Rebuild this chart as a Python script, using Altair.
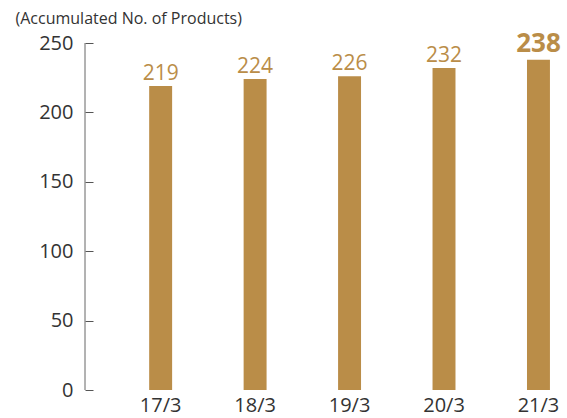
import altair as alt
import pandas as pd

categories = ["17/3", "18/3", "19/3", "20/3", "21/3"]
values = [219, 224, 226, 232, 238]
highlight = [False, False, False, False, True]

df = pd.DataFrame({"cat": categories, "val": values, "hl": highlight})

BAR = "#BA8D48"
FONT = "Open Sans"

x = alt.X("cat:N", sort=categories,
          scale=alt.Scale(paddingInner=0.757, paddingOuter=0.43, align=0.79),
          axis=alt.Axis(title=None, labelAngle=0, domain=False, ticks=False,
                        labelFontSize=20, labelFont=FONT, labelColor="#333333",
                        labelPadding=5, grid=False))
y = alt.Y("val:Q", scale=alt.Scale(domain=[0, 250], nice=False),
          axis=alt.Axis(title="(Accumulated No. of Products)",
                        titleAngle=0, titleAlign="left", titleBaseline="alphabetic",
                        titleX=-78, titleY=-20, titleFontSize=16, titleFont=FONT,
                        titleFontWeight="normal", titleColor="#333333",
                        values=[0, 50, 100, 150, 200, 250],
                        domain=False, ticks=True, tickSize=8, offset=-8,
                        tickColor="#555555", tickWidth=1, labelPadding=12,
                        labelFontSize=20, labelFont=FONT, labelColor="#333333",
                        grid=False))

base = alt.Chart(df)

bars = base.mark_bar(color=BAR).encode(x=x, y=y)

labels = base.transform_filter("!datum.hl").mark_text(
    baseline="alphabetic", dy=-6, fontSize=21, fontWeight=500, font=FONT, color=BAR
).encode(x=alt.X("cat:N", sort=categories), y="val:Q", text="val:Q")

label_hl = base.transform_filter("datum.hl").mark_text(
    baseline="alphabetic", dy=-8, fontSize=26, fontWeight="bold", font=FONT, color=BAR
).encode(x=alt.X("cat:N", sort=categories), y="val:Q", text="val:Q")

axis_df = pd.DataFrame({"y0": [0], "y1": [250]})
axis_line = alt.Chart(axis_df).mark_rule(color="#666666", strokeWidth=1).encode(
    x=alt.value(0), y="y0:Q", y2="y1:Q")

chart = alt.layer(bars, labels, label_hl, axis_line).properties(
    width=482, height=347,
    autosize=alt.AutoSizeParams(type="none"),
    padding={"left": 85, "top": 43, "right": 0, "bottom": 28},
).configure(background="white").configure_view(stroke=None)

chart.save("out.html", embed_options={"renderer": "svg", "actions": False})
